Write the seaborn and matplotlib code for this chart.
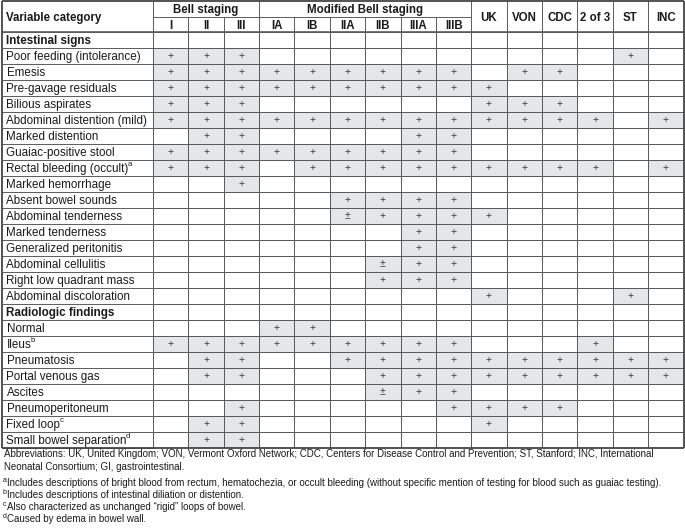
import matplotlib
matplotlib.use("Agg")
import matplotlib.pyplot as plt
from matplotlib.colors import ListedColormap
import numpy as np
import pandas as pd
import seaborn as sns

# Colonnes : Bell (I-III), Bell modifié (IA-IIIB), puis définitions alternatives
columns = ["I", "II", "III", "IA", "IB", "IIA", "IIB", "IIIA", "IIIB",
           "UK", "VON", "CDC", "2 of 3", "ST", "INC"]
bell_cols = ["I", "II", "III"]
modified_cols = ["IA", "IB", "IIA", "IIB", "IIIA", "IIIB"]

row_labels = [
    "Intestinal signs",
    "Poor feeding (intolerance)",
    "Emesis",
    "Pre-gavage residuals",
    "Bilious aspirates",
    "Abdominal distention (mild)",
    "Marked distention",
    "Guaiac-positive stool",
    "Rectal bleeding (occult)",
    "Marked hemorrhage",
    "Absent bowel sounds",
    "Abdominal tenderness",
    "Marked tenderness",
    "Generalized peritonitis",
    "Abdominal cellulitis",
    "Right low quadrant mass",
    "Abdominal discoloration",
    "Radiologic findings",
    "Normal",
    "Ileus",
    "Pneumatosis",
    "Portal venous gas",
    "Ascites",
    "Pneumoperitoneum",
    "Fixed loop",
    "Small bowel separation",
]
section_rows = ["Intestinal signs", "Radiologic findings"]
# appels de note en exposant
label_notes = {"Rectal bleeding (occult)": "a", "Ileus": "b",
               "Fixed loop": "c", "Small bowel separation": "d"}

# une chaîne par ligne, un caractère par colonne ('.' = vide)
marks = [
    "...............",
    "+++..........+.",
    "+++++++++.++...",
    "++++++++++.....",
    "+++......+++...",
    "+++++++++++++.+",
    ".++....++......",
    "+++++++++......",
    "+++.+++++++++.+",
    "..+............",
    ".....++++......",
    ".....±++++.....",
    ".......++......",
    ".......++......",
    "......±++......",
    "......+++......",
    ".........+...+.",
    "...............",
    "...++..........",
    "+++++++++...+..",
    ".++..++++++++++",
    ".++...+++++++++",
    "......±++......",
    "..+.....++++...",
    ".++......+.....",
    ".++............",
]

# (appel de note, texte)
footnotes = [
    ("", "Abbreviations: UK, United Kingdom; VON, Vermont Oxford Network; CDC, Centers for Disease Control and Prevention; ST, Stanford; INC, International"),
    ("", "Neonatal Consortium; GI, gastrointestinal."),
    ("a", "Includes descriptions of bright blood from rectum, hematochezia, or occult bleeding (without specific mention of testing for blood such as guaiac testing)."),
    ("b", "Includes descriptions of intestinal diliation or distention."),
    ("c", "Also characterized as unchanged “rigid” loops of bowel."),
    ("d", "Caused by edema in bowel wall."),
]
footnote_y = [454, 467, 483, 495, 507, 519]

GRAY = "#e5e6e8"
LINE = "#5b5b5b"
TXT = "#1a1a1a"

sns.set_theme(style="white")
plt.rcParams["font.family"] = ["Liberation Sans", "DejaVu Sans"]

annot = pd.DataFrame([[c if c != "." else "" for c in r] for r in marks],
                     index=row_labels, columns=columns)
filled = (annot != "").astype(int)

W, H = 685, 531
x_left, x_tab, x_right = 1.5, 153.0, 683.5
y_top, y_body, y_bottom = 1.0, 32.3, 448.3

fig = plt.figure(figsize=(W / 100, H / 100), dpi=100)
ax = fig.add_axes([x_tab / W, 1 - y_bottom / H, (x_right - x_tab) / W, (y_bottom - y_body) / H])

sns.heatmap(filled, ax=ax, cmap=ListedColormap(["white", GRAY]), vmin=0, vmax=1,
            cbar=False, annot=annot.values, fmt="",
            annot_kws=dict(size=7.5, color="#3a3a3a"),
            linewidths=0.7, linecolor=LINE,
            xticklabels=False, yticklabels=False)

n_rows, n_cols = filled.shape
col_w = (x_right - x_tab) / n_cols
row_h = (y_bottom - y_body) / n_rows
x0 = -(x_tab - x_left) / col_w          # bord gauche de la colonne des libellés
hdr = (y_body - y_top) / row_h           # hauteur de l'en-tête en lignes
mid = -hdr / 2

lk = dict(color=LINE, lw=0.7, clip_on=False)
# colonne des libellés
ax.hlines(np.arange(n_rows + 1), x0, 0, **lk)
# en-tête
ax.hlines(mid, 0, len(bell_cols) + len(modified_cols), **lk)
ax.vlines([1, 2, 4, 5, 6, 7, 8], mid, 0, **lk)
ax.vlines([0, 3] + list(range(9, 15)), -hdr, 0, **lk)
ax.hlines(0, x0, n_cols, color=LINE, lw=1.2, clip_on=False)
# cadre extérieur
bk = dict(color="#444444", lw=1.3, clip_on=False)
ax.hlines([-hdr, n_rows], x0, n_cols, **bk)
ax.vlines([x0, n_cols], -hdr, n_rows, **bk)

# libellés des lignes
base = 0.5 + 3.7 / row_h
for i, lab in enumerate(row_labels):
    t = ax.text(x0 + 5 / col_w, i + base, lab, ha="left", va="baseline", fontsize=8.4,
                color=TXT, fontweight="bold" if lab in section_rows else "normal")
    if lab in label_notes:
        ax.annotate(label_notes[lab], xy=(1, 0.62), xycoords=t, xytext=(-0.7, 0),
                    textcoords="offset points", ha="left", va="bottom",
                    fontsize=5.6, color=TXT)

# textes d'en-tête
hk = dict(ha="center", va="baseline", fontsize=8.3, fontweight="bold", color=TXT)
off = 4.3 / row_h
ax.text(x0 + 5 / col_w, mid + off, "Variable category", **{**hk, "ha": "left"})
ax.text(len(bell_cols) / 2, -hdr * 0.75 + off, "Bell staging", **hk)
ax.text(len(bell_cols) + len(modified_cols) / 2, -hdr * 0.75 + off, "Modified Bell staging", **hk)
for j, c in enumerate(columns):
    if c in bell_cols or c in modified_cols:
        ax.text(j + 0.5, -hdr * 0.25 + off, c, **hk)
    else:
        ax.text(j + 0.5, mid + off, c, **hk)

# notes de bas de tableau
for (sup, txt), yp in zip(footnotes, footnote_y):
    if sup:
        fig.text(2.5 / W, 1 - (yp - 3) / H, sup, ha="left", va="center", fontsize=5, color=TXT)
        fig.text(7 / W, 1 - yp / H, txt, ha="left", va="center", fontsize=7.0, color=TXT)
    else:
        fig.text(4 / W, 1 - yp / H, txt, ha="left", va="center", fontsize=7.0, color=TXT)

fig.savefig("out.png", dpi=100)
